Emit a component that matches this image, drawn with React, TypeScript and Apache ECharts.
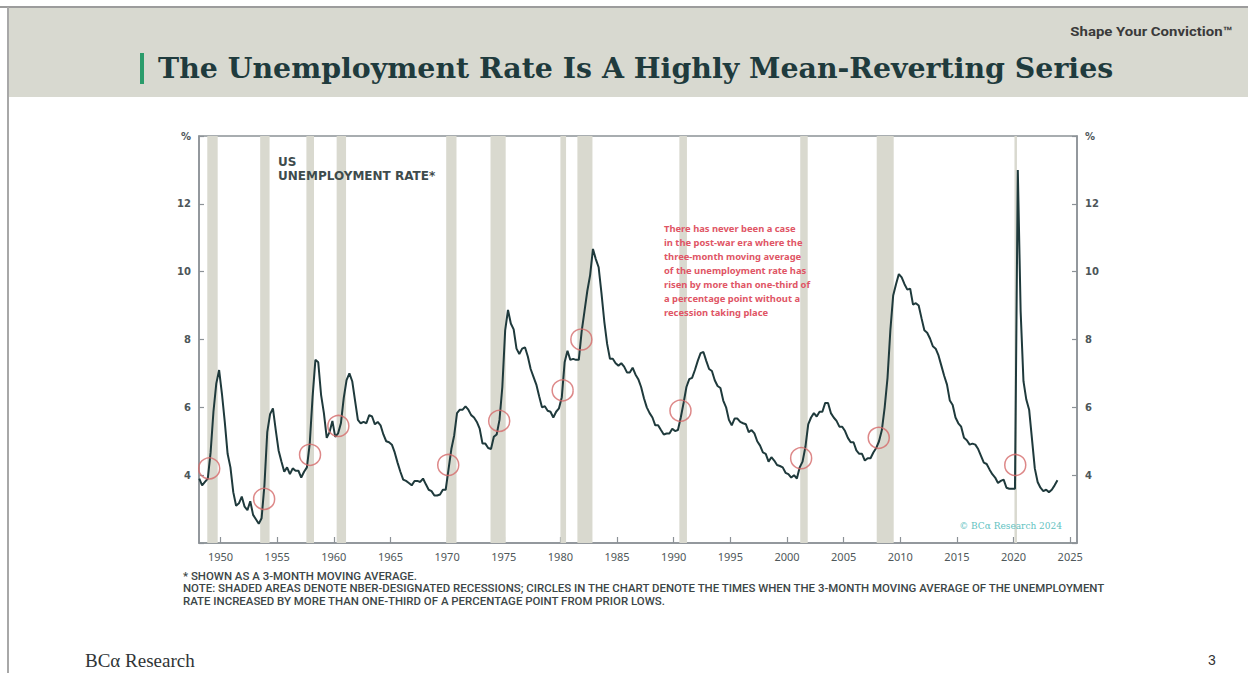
import React, { useEffect, useRef } from "react";
import * as echarts from "echarts";

// Quarterly values of the 3-month moving average of the US unemployment rate (%), first value = 1948 Q1
const u1948to1959 = [
  3.9, 3.7, 3.8, 3.9, 4.67, 5.87, 6.7, 7.1, 6.4, 5.57, 4.63, 4.23,
  3.5, 3.1, 3.17, 3.37, 3.07, 2.97, 3.23, 2.83, 2.7, 2.57, 2.73, 3.7,
  5.27, 5.8, 5.97, 5.33, 4.73, 4.4, 4.1, 4.23, 4.03, 4.2, 4.13, 4.13,
  3.93, 4.1, 4.23, 4.93, 6.3, 7.4, 7.33, 6.37, 5.83, 5.1, 5.27, 5.6,
];
const u1960s = [
  5.13, 5.23, 5.53, 6.27, 6.8, 7.0, 6.77, 6.2, 5.63, 5.53, 5.57, 5.53,
  5.77, 5.73, 5.5, 5.57, 5.47, 5.2, 5.0, 4.97, 4.9, 4.67, 4.37, 4.1,
  3.87, 3.83, 3.77, 3.7, 3.83, 3.83, 3.8, 3.9, 3.73, 3.57, 3.53, 3.4,
  3.4, 3.43, 3.57, 3.57,
];
const u1970s = [
  4.17, 4.77, 5.17, 5.83, 5.93, 5.93, 6.03, 5.93, 5.77, 5.7, 5.57, 5.37,
  4.93, 4.93, 4.8, 4.77, 5.13, 5.2, 5.63, 6.6, 8.27, 8.87, 8.47, 8.3,
  7.73, 7.57, 7.73, 7.77, 7.5, 7.13, 6.9, 6.67, 6.33, 6.0, 6.03, 5.9,
  5.87, 5.7, 5.87, 5.97,
];
const u1980s = [
  6.3, 7.33, 7.67, 7.4, 7.43, 7.4, 7.4, 8.23, 8.83, 9.43, 9.9, 10.67,
  10.37, 10.13, 9.37, 8.53, 7.87, 7.43, 7.43, 7.3, 7.23, 7.3, 7.2, 7.03,
  7.03, 7.17, 6.97, 6.83, 6.6, 6.27, 6.0, 5.83, 5.7, 5.47, 5.47, 5.33,
  5.2, 5.23, 5.23, 5.37,
];
const u1990s = [
  5.3, 5.33, 5.7, 6.13, 6.6, 6.83, 6.87, 7.1, 7.37, 7.6, 7.63, 7.37,
  7.13, 7.07, 6.8, 6.63, 6.57, 6.2, 6.0, 5.63, 5.47, 5.67, 5.67, 5.57,
  5.53, 5.5, 5.27, 5.33, 5.23, 5.0, 4.87, 4.67, 4.63, 4.4, 4.53, 4.43,
  4.3, 4.27, 4.23, 4.07,
];
const u2000s = [
  4.03, 3.93, 4.0, 3.9, 4.23, 4.4, 4.83, 5.5, 5.7, 5.83, 5.73, 5.87,
  5.87, 6.13, 6.13, 5.83, 5.7, 5.6, 5.43, 5.43, 5.3, 5.1, 4.97, 4.97,
  4.73, 4.63, 4.63, 4.43, 4.5, 4.5, 4.67, 4.8, 5.0, 5.33, 6.0, 6.87,
  8.27, 9.3, 9.63, 9.93,
];
const u2010s = [
  9.83, 9.63, 9.47, 9.5, 9.03, 9.07, 9.0, 8.63, 8.27, 8.2, 8.03, 7.8,
  7.73, 7.53, 7.23, 6.93, 6.67, 6.2, 6.07, 5.7, 5.53, 5.43, 5.1, 5.03,
  4.9, 4.93, 4.9, 4.77, 4.57, 4.37, 4.33, 4.17, 4.03, 3.93, 3.77, 3.83,
  3.87, 3.63, 3.6, 3.6,
];
const u2020s = [
  3.6, 13.0, 8.83, 6.77, 6.23, 5.93, 5.07, 4.2, 3.8, 3.63, 3.53, 3.57,
  3.5, 3.57, 3.7, 3.85,
];

// NBER recessions (decimal years)
const recessionStarts = [1948.83, 1953.5, 1957.58, 1960.25, 1969.92, 1973.83, 1980.0, 1981.5, 1990.5, 2001.17, 2007.92, 2020.08];
const recessionEnds = [1949.75, 1954.33, 1958.25, 1961.08, 1970.83, 1975.17, 1980.5, 1982.83, 1991.17, 2001.83, 2009.42, 2020.3];

// Circles: times when the 3m MA rose > 1/3 pp from prior lows
const signalYears = [1949.0, 1953.85, 1957.9, 1960.4, 1970.1, 1974.6, 1980.2, 1981.85, 1990.6, 2001.25, 2008.1, 2020.15];
const signalValues = [4.2, 3.3, 4.6, 5.45, 4.3, 5.6, 6.5, 8.0, 5.9, 4.5, 5.1, 4.3];

const xTickYears = [1950, 1955, 1960, 1965, 1970, 1975, 1980, 1985, 1990, 1995, 2000, 2005, 2010, 2015, 2020, 2025];
const yTicks = [4, 6, 8, 10, 12];

const firstQuarterCentre = 1948.125;

const noteLines = [
  "* SHOWN AS A 3-MONTH MOVING AVERAGE.",
  "NOTE: SHADED AREAS DENOTE NBER-DESIGNATED RECESSIONS; CIRCLES IN THE CHART DENOTE THE TIMES WHEN THE 3-MONTH MOVING AVERAGE OF THE UNEMPLOYMENT",
  "RATE INCREASED BY MORE THAN ONE-THIRD OF A PERCENTAGE POINT FROM PRIOR LOWS.",
];

const annotationLines = [
  "There has never been a case",
  "in the post-war era where the",
  "three-month moving average",
  "of the unemployment rate has",
  "risen by more than one-third of",
  "a percentage point without a",
  "recession taking place",
];

export default function App() {
  const ref = useRef<HTMLDivElement>(null);

  useEffect(() => {
    if (!ref.current) return;
    const chart = echarts.init(ref.current, undefined, { renderer: "svg" });

    const all = [...u1948to1959, ...u1960s, ...u1970s, ...u1980s, ...u1990s, ...u2000s, ...u2010s, ...u2020s];
    const lineData = all.map((v, i) => [firstQuarterCentre + i * 0.25, v]);
    const circles = signalYears.map((y, i) => [y, signalValues[i]]);
    const areas = recessionStarts.map((s, i) => [{ xAxis: s }, { xAxis: recessionEnds[i] }]);

    const axisColor = "#8c9297";
    const labelFont = "'Noto Sans', 'DejaVu Sans', sans-serif";

    const yAxisCommon = {
      type: "value",
      min: 2,
      max: 14,
      interval: 2,
      axisLine: { show: true, lineStyle: { color: axisColor, width: 1.5 } },
      axisTick: { show: true, inside: true, length: 5, lineStyle: { color: axisColor, width: 1.2 } },
      splitLine: { show: false },
      axisLabel: {
        color: "#4d5659",
        fontSize: 10,
        fontWeight: "bold",
        fontFamily: "'DejaVu Sans', sans-serif",
        margin: 8,
        formatter: (v: number) => (v === 14 ? "%" : yTicks.includes(v) ? String(v) : ""),
      },
    };

    const graphics: any[] = [
      { type: "rect", shape: { x: 8, y: 8, width: 1240, height: 89 }, style: { fill: "#d8d9d0" }, z: 0 },
      { type: "line", shape: { x1: 0, y1: 7, x2: 1248, y2: 7 }, style: { stroke: "#9c9c9c", lineWidth: 2 } },
      { type: "line", shape: { x1: 8, y1: 7, x2: 8, y2: 673 }, style: { stroke: "#a8a8a8", lineWidth: 2 } },
      { type: "rect", shape: { x: 140, y: 53, width: 4, height: 31 }, style: { fill: "#2b9c6b" } },
      {
        type: "text",
        x: 158,
        y: 68,
        z: 100,
        style: {
          text: "The Unemployment Rate Is A Highly Mean-Reverting Series",
          fill: "#1f3b3d",
          font: "bold 28.4px 'DejaVu Serif', serif",
          verticalAlign: "middle",
        },
      },
      {
        type: "text",
        x: 1232,
        y: 31,
        z: 100,
        scaleX: 1.15,
        style: {
          text: "Shape Your Conviction™",
          fill: "#3a3a3a",
          font: "bold 13px Roboto, sans-serif",
          align: "right",
          verticalAlign: "middle",
        },
      },
      {
        type: "text",
        x: 278,
        y: 155,
        z: 100,
        style: {
          text: "US\nUNEMPLOYMENT RATE*",
          fill: "#3e4b4c",
          font: "bold 12px 'DejaVu Sans', sans-serif",
          lineHeight: 14,
        },
      },
      {
        type: "text",
        x: 664,
        y: 222,
        z: 100,
        style: {
          text: annotationLines.join("\n"),
          fill: "#e05565",
          font: "bold 9.4px 'Noto Sans', sans-serif",
          lineHeight: 13.9,
        },
      },
      {
        type: "text",
        x: 1062,
        y: 526,
        z: 100,
        style: {
          text: "© BCα Research 2024",
          fill: "#62c2bf",
          font: "9px 'DejaVu Serif', serif",
          align: "right",
          verticalAlign: "middle",
        },
      },
      {
        type: "text",
        x: 183,
        y: 570,
        z: 100,
        scaleX: 1.04,
        style: {
          text: noteLines.join("\n"),
          fill: "#3c4647",
          font: "500 11px Roboto, sans-serif",
          lineHeight: 12.5,
        },
      },
      {
        type: "text",
        x: 85,
        y: 660,
        z: 100,
        style: {
          text: "BCα Research",
          fill: "#2f3436",
          font: "19px 'Liberation Serif', serif",
          verticalAlign: "middle",
        },
      },
      {
        type: "text",
        x: 1212,
        y: 660,
        z: 100,
        style: {
          text: "3",
          fill: "#333",
          font: "14px 'Liberation Sans', sans-serif",
          align: "center",
          verticalAlign: "middle",
        },
      },
    ];

    chart.setOption({
      animation: false,
      backgroundColor: "#ffffff",
      grid: {
        left: 199,
        top: 136,
        width: 878,
        height: 407,
        show: true,
        borderColor: axisColor,
        borderWidth: 1.5,
        backgroundColor: "transparent",
      },
      xAxis: {
        type: "value",
        min: 1948.1,
        max: 2025.6,
        axisLine: { show: true, lineStyle: { color: axisColor, width: 1.5 } },
        axisTick: {
          show: true,
          inside: true,
          length: 6,
          customValues: xTickYears,
          lineStyle: { color: axisColor, width: 1.2 },
        },
        axisLabel: {
          customValues: xTickYears,
          color: "#4f585a",
          fontSize: 11,
          fontFamily: labelFont,
          margin: 8,
          formatter: (v: number) => String(Math.round(v)),
        },
        splitLine: { show: false },
      },
      yAxis: [
        { ...yAxisCommon, position: "left" },
        { ...yAxisCommon, position: "right" },
      ],
      series: [
        {
          type: "line",
          data: lineData,
          showSymbol: false,
          symbol: "none",
          lineStyle: { color: "#1f3a3c", width: 2 },
          z: 3,
          markArea: {
            silent: true,
            itemStyle: { color: "#d9d9cf" },
            data: areas,
          },
        },
        {
          type: "scatter",
          data: circles,
          symbol: "circle",
          symbolSize: 21,
          itemStyle: { color: "rgba(255,255,255,0)", borderColor: "#d46a6a", borderWidth: 1.5 },
          z: 4,
          silent: true,
        },
      ],
      graphic: graphics,
    });

    return () => chart.dispose();
  }, []);

  return (
    <div
      ref={ref}
      style={{ position: "fixed", left: 0, top: 0, width: 1248, height: 673, background: "#fff" }}
    />
  );
}
